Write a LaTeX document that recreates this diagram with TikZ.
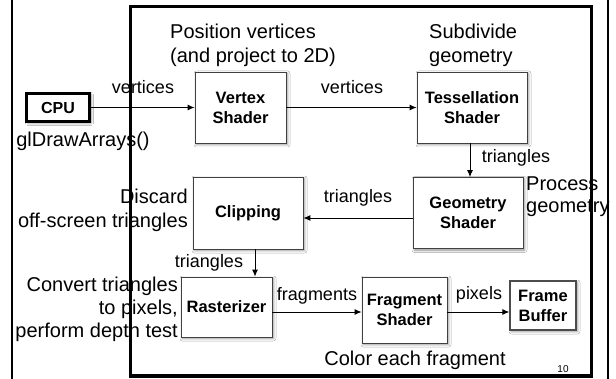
\documentclass[tikz,border=0pt]{standalone}
\usepackage{fontspec}
\setmainfont{Liberation Sans}
\usetikzlibrary{arrows.meta,shadows.blur}
\tikzset{
  stage/.style={draw=black!75, line width=0.8pt, fill=white, align=center,
    font=\fontsize{16.5}{20}\selectfont\bfseries, inner sep=0pt,
    blur shadow={shadow xshift=1.5pt, shadow yshift=-1.5pt, shadow blur radius=2.5pt, shadow opacity=45}},
  note/.style={font=\fontsize{20}{24}\selectfont, inner sep=0pt},
  lbl/.style={font=\fontsize{18}{22}\selectfont, inner sep=0pt},
  flow/.style={line width=0.9pt, -{Latex[length=7pt,width=6pt]}},
  frameline/.style={line width=2pt},
}
\begin{document}
\begin{tikzpicture}[x=1pt, y=-1pt]
\useasboundingbox (0,0) rectangle (616,379);
\fill[white] (0,0) rectangle (616,379);
% frames
\draw[frameline] (12,0) -- (12,379);
\draw[frameline] (608,0) -- (608,379);
\draw[line width=3pt] (130,7) rectangle (591,376);
% stages
\node[stage, draw=black, line width=3.5pt, minimum width=63pt, minimum height=28pt, font=\fontsize{16}{20}\selectfont\bfseries] (cpu) at (58,107.5) {CPU};
\node[stage, minimum width=91pt, minimum height=71pt] (vs) at (240.5,107.5) {Vertex\\Shader};
\node[stage, minimum width=110pt, minimum height=71pt] (ts) at (472,107.5) {Tessellation\\Shader};
\node[stage, minimum width=110pt, minimum height=71pt] (gs) at (468,213) {Geometry\\Shader};
\node[stage, minimum width=110pt, minimum height=72pt] (cl) at (248,213) {Clipping};
\node[stage, minimum width=91pt, minimum height=60pt] (rz) at (226.5,307) {Rasterizer};
\node[stage, minimum width=85pt, minimum height=66pt] (fs) at (404.5,310) {Fragment\\Shader};
\node[stage, draw=black!70, line width=1.3pt, minimum width=66pt, minimum height=49pt] (fb) at (543,305.5) {Frame\\Buffer};
% connectors
\draw[flow] (cpu.east) -- (cpu.east -| vs.west);
\draw[flow] (vs.east) -- (vs.east -| ts.west);
\draw[flow] ([xshift=-2pt]ts.south) -- ([xshift=-2pt]ts.south |- gs.north);
\draw[flow] ([yshift=-5pt]gs.west) -- ([yshift=-5pt]gs.west -| cl.east);
\draw[flow] ([xshift=7pt]cl.south) -- ([xshift=7pt]cl.south |- rz.north);
\draw[flow] ([yshift=-5pt]rz.east) -- ([yshift=-5pt]rz.east -| fs.west);
\draw[flow] ([yshift=-2pt]fs.east) -- ([yshift=-2pt]fs.east -| fb.west);
% connector labels
\node[lbl] (l1) at (143,87) {vertices};
\node[lbl] (l2) at (352,87) {vertices};
\node[lbl] (l3) at (516,158) {triangles};
\node[lbl] (l4) at (358,198) {triangles};
\node[lbl] (l5) at (209,263) {triangles};
\node[lbl] (l6) at (317,296) {fragments};
\node[lbl] (l7) at (479,295) {pixels};
% annotations
\node[note] (gl) at (83,141) {glDrawArrays()};
\node[note, anchor=west, align=left] (posn) at (170,45) {Position vertices\\(and project to 2D)};
\node[note, anchor=west, align=left] (subd) at (429,45) {Subdivide\\geometry};
\node[note, anchor=west, align=left, font=\fontsize{20}{22}\selectfont] (proc) at (526,197) {Process\\geometry};
\node[note, anchor=east, align=right] (disc) at (188,210) {Discard\\off-screen triangles};
\node[note, anchor=east, align=right, font=\fontsize{20}{23}\selectfont] (conv) at (178,309) {Convert triangles\\to pixels,\\perform depth test};
\node[note] (col) at (415,360) {Color each fragment};
\node[font=\fontsize{10}{12}\selectfont, inner sep=0pt] (pg) at (563,369) {10};
\end{tikzpicture}
\end{document}
